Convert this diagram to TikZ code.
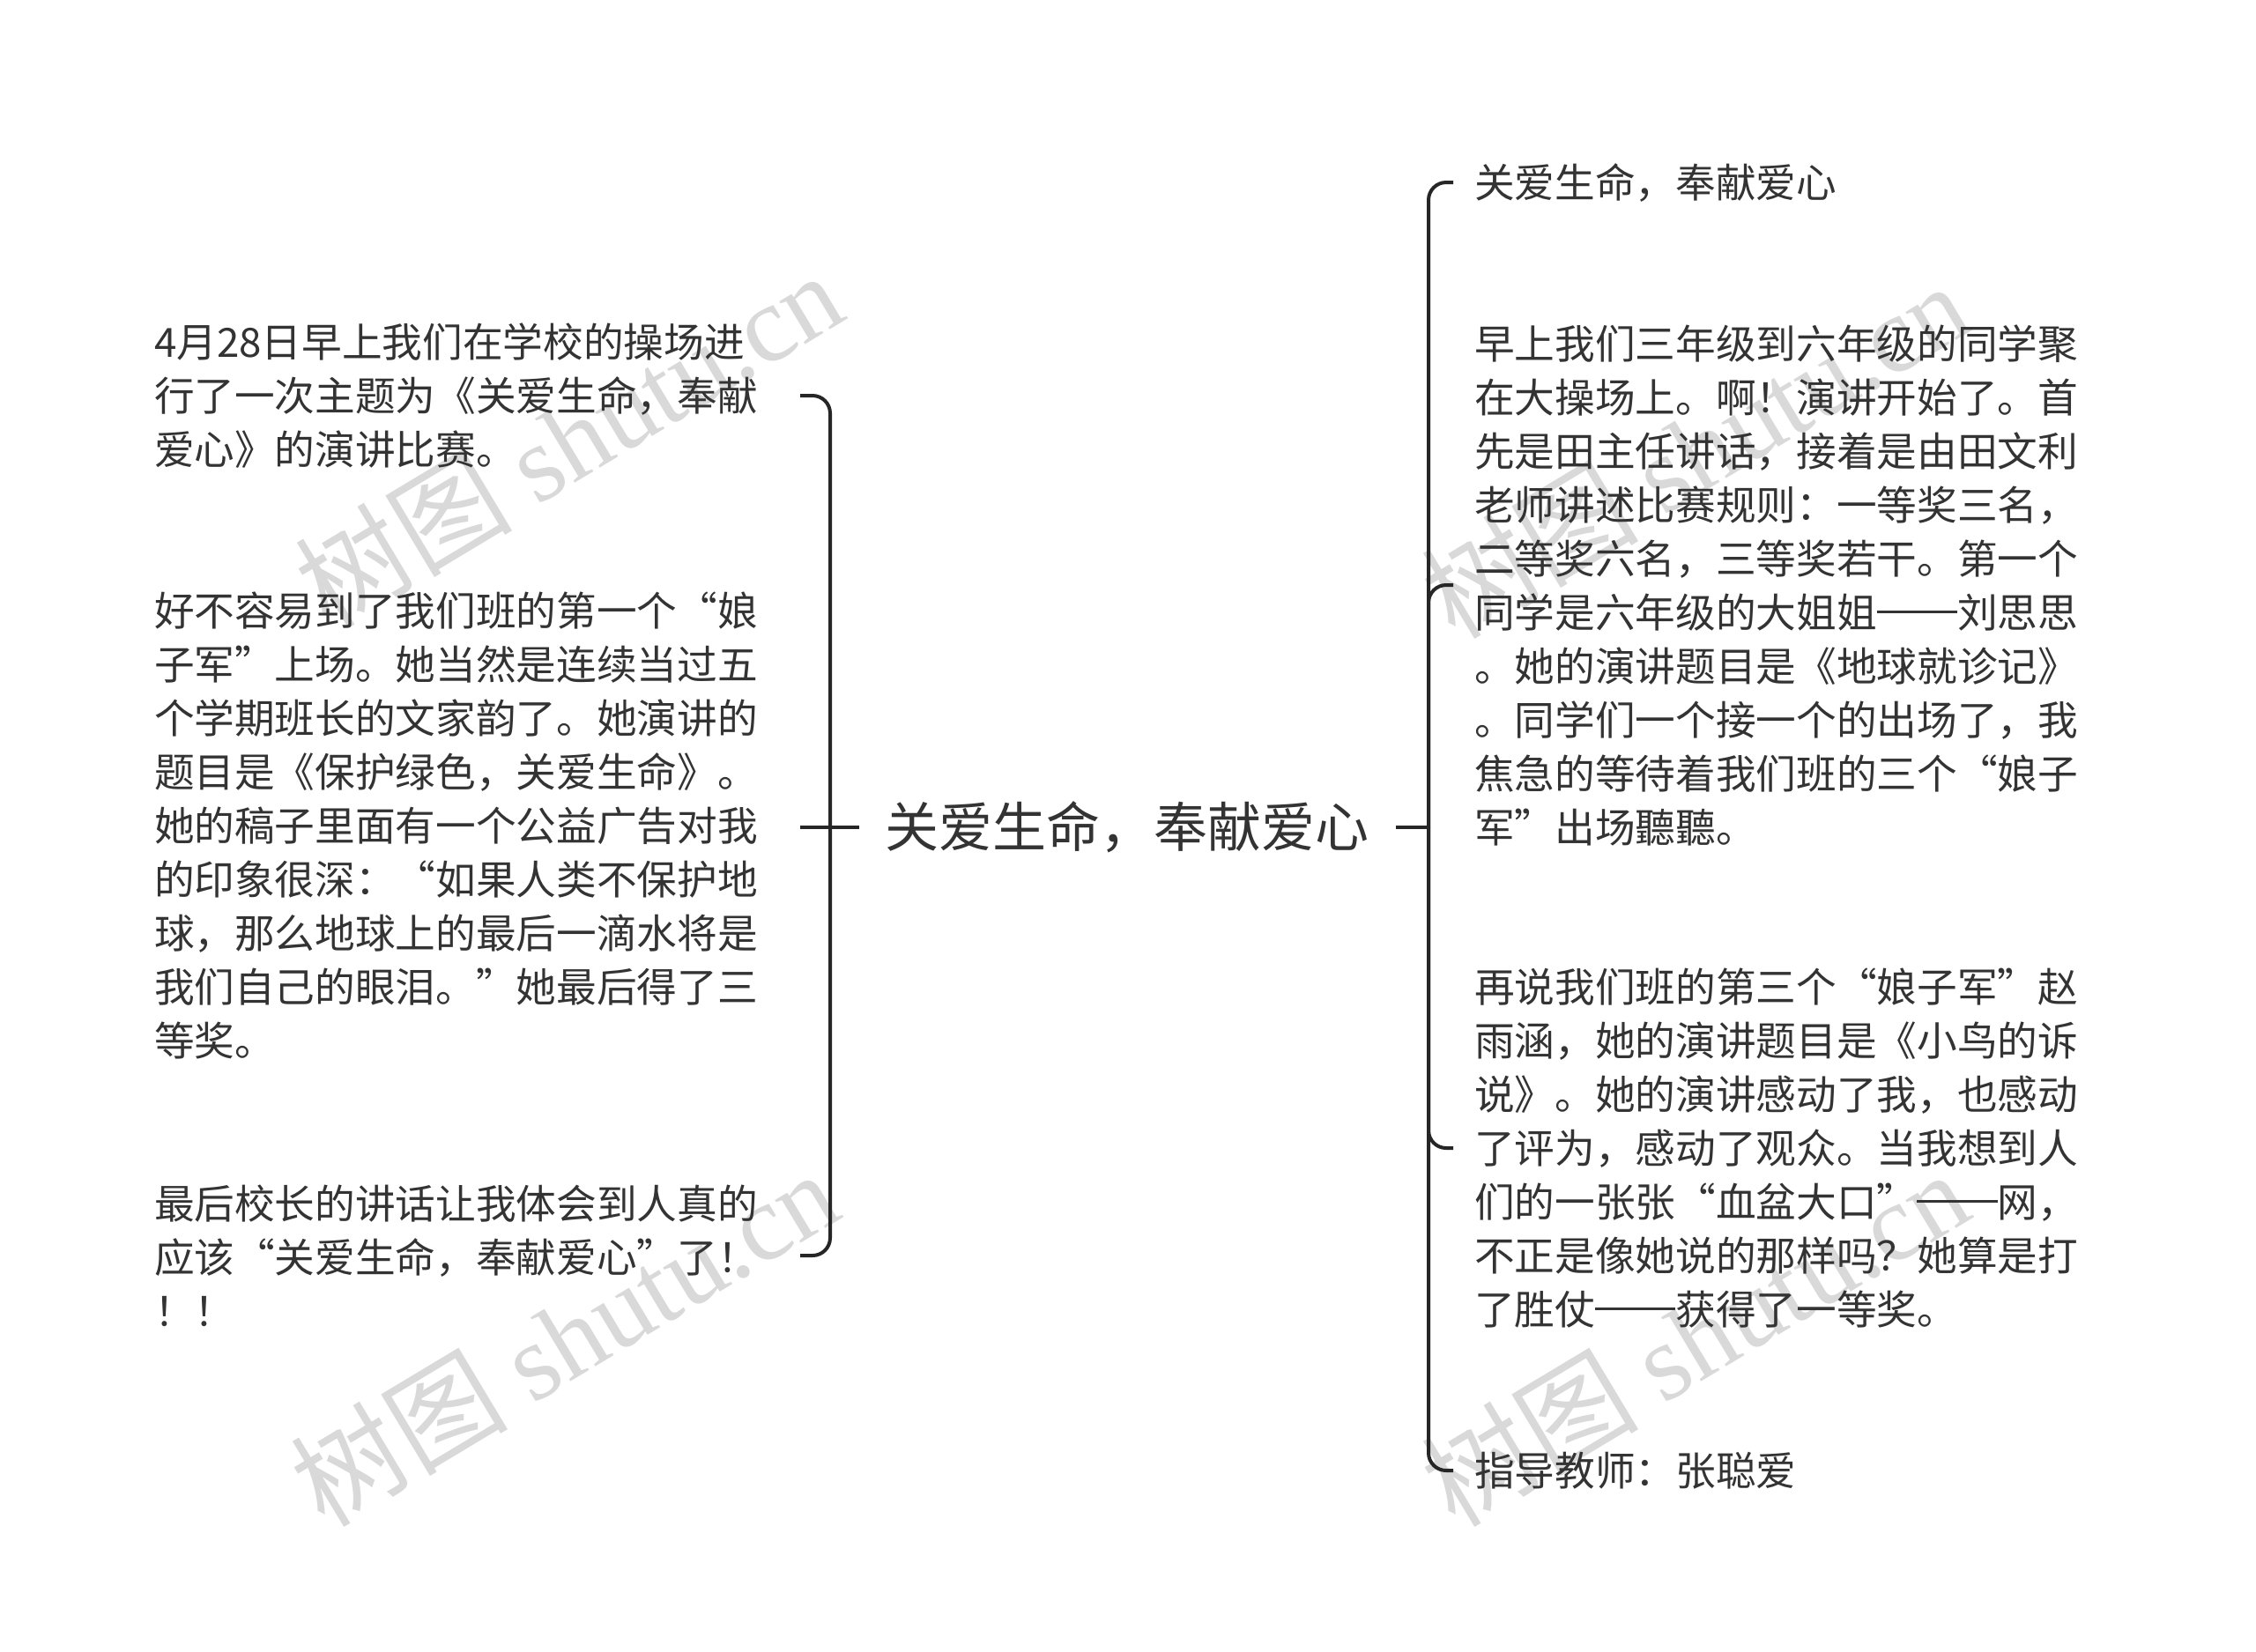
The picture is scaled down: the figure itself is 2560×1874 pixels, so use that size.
\documentclass[tikz,border=0pt]{standalone}
\usepackage{fontspec}
\usepackage{tikz}
\newfontfamily\cjk{Noto Sans CJK SC}
\newfontfamily\wmfont{Liberation Serif}
\definecolor{textGray}{HTML}{333333}
\definecolor{lineGray}{HTML}{262626}
\definecolor{markGray}{HTML}{D9D9D9}
\newcommand\longdash{\makebox[2em][s]{\rule[0.36em]{2em}{0.065em}}}

\tikzset{
  leaf/.style={font=\cjk\fontsize{13.7pt}{18.3pt}\selectfont, text=textGray, inner sep=0pt, align=left},
  leftleaf/.style={leaf, anchor=west, text width=205.5pt, outer xsep=14.4pt},
  rightleaf/.style={leaf, anchor=west, outer xsep=7.2pt},
  link/.style={draw=lineGray, line width=1.2pt, rounded corners=6pt},
  wmark/.style={text=markGray, font=\cjk\fontsize{37pt}{40pt}\selectfont, rotate=31, inner sep=0pt}
}

\begin{document}
\begin{tikzpicture}[x=0.3pt, y=-0.3pt]
        \useasboundingbox (0,0) rectangle (2560,1874);
        \fill[white] (0,0) rectangle (2560,1874);

        \node[wmark] (wm1) at (645,498) {树图 {\wmfont shutu.cn}};
        \node[wmark] (wm2) at (640,1518) {树图 {\wmfont shutu.cn}};
        \node[wmark] (wm3) at (1923,510) {树图 {\wmfont shutu.cn}};
        \node[wmark] (wm4) at (1923,1518) {树图 {\wmfont shutu.cn}};

        \node[font=\cjk\fontsize{18.3pt}{22pt}\selectfont, text=textGray, inner sep=0pt, outer xsep=9pt] (root) at (1279,939) {关爱生命，奉献爱心};
        \coordinate (ljoin) at (942,939);
        \coordinate (rjoin) at (1621,939);

        \node[leftleaf] (l1) at (127,449) {4月28日早上我们在学校的操场进\\行了一次主题为《关爱生命，奉献\\爱心》的演讲比赛。};
        \node[leftleaf] (l2) at (127,937) {好不容易到了我们班的第一个“娘\\子军”上场。她当然是连续当过五\\个学期班长的文家韵了。她演讲的\\题目是《保护绿色，关爱生命》。\\她的稿子里面有一个公益广告对我\\的印象很深：“如果人类不保护地\\球，那么地球上的最后一滴水将是\\我们自己的眼泪。”她最后得了三\\等奖。};
        \node[leftleaf] (l3) at (127,1425) {最后校长的讲话让我体会到人真的\\应该“关爱生命，奉献爱心”了！\\！！};

        \node[rightleaf] (r1) at (1649,207) {关爱生命，奉献爱心};
        \node[rightleaf] (r2) at (1649,664) {早上我们三年级到六年级的同学聚\\在大操场上。啊！演讲开始了。首\\先是田主任讲话，接着是由田文利\\老师讲述比赛规则：一等奖三名，\\二等奖六名，三等奖若干。第一个\\同学是六年级的大姐姐\longdash 刘思思\\。她的演讲题目是《地球就诊记》\\。同学们一个接一个的出场了，我\\焦急的等待着我们班的三个“娘子\\军”出场聽聽。};
        \node[rightleaf] (r3) at (1649,1303) {再说我们班的第三个“娘子军”赵\\雨涵，她的演讲题目是《小鸟的诉\\说》。她的演讲感动了我，也感动\\了评为，感动了观众。当我想到人\\们的一张张“血盆大口”\longdash 网，\\不正是像她说的那样吗？她算是打\\了胜仗\longdash 获得了一等奖。};
        \node[rightleaf] (r4) at (1649,1669) {指导教师：张聪爱};

        \draw[link] (root.west) -- (ljoin -| l2.east);
        \draw[link] (l1.east) -| (ljoin) |- (l3.east);
        \draw[link] (root.east) -- (rjoin);
        \draw[link] (rjoin) |- (r1.west);
        \draw[link] (rjoin) |- (r2.west);
        \draw[link] (rjoin) |- (r3.west);
        \draw[link] (rjoin) |- (r4.west);
      \end{tikzpicture}
\end{document}
